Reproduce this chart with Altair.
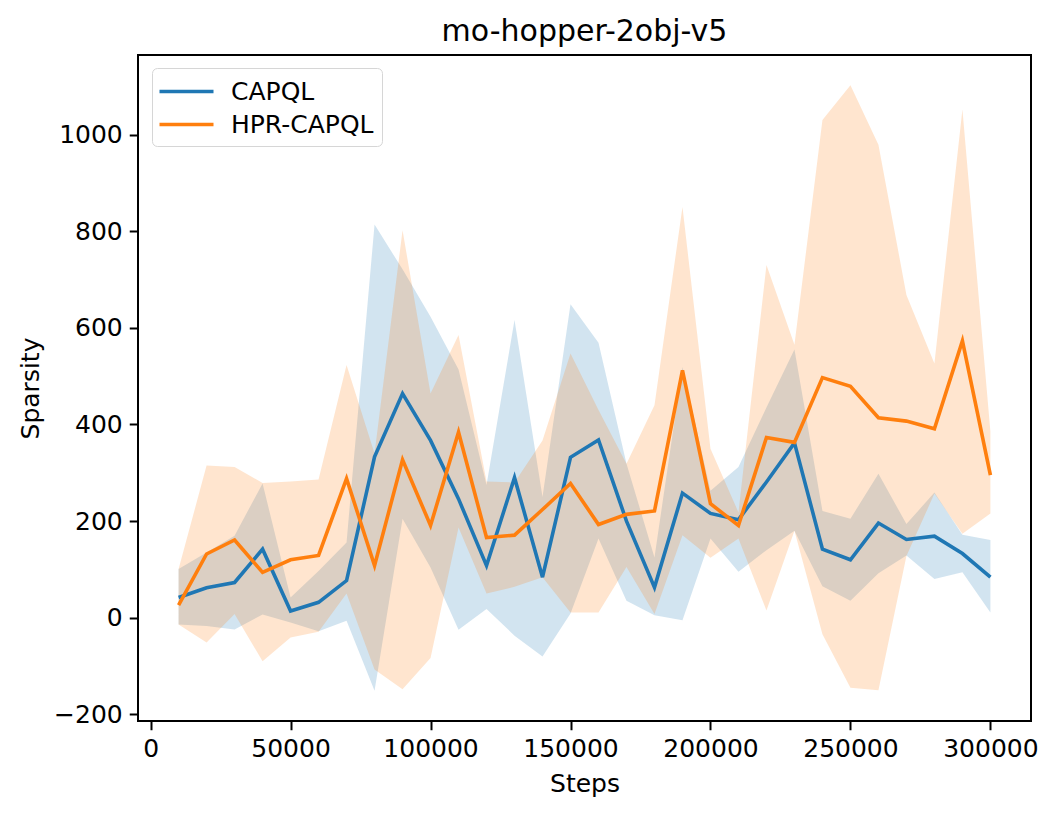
import altair as alt
import pandas as pd

steps = [10000 * k for k in range(1, 31)]

capql_mean = [42, 62, 73, 142, 14, 32, 77, 333, 464, 367,
              246, 108, 290, 84, 332, 368, 200, 63, 258, 216,
              203, 281, 362, 142, 120, 196, 162, 169, 133, 84]
capql_lo = [-14, -17, -24, 7, -10, -28, -6, -151, 205, 104,
            -25, 18, -37, -80, 9, 164, 35, 5, -5, 164,
            95, 140, 180, 65, 35, 92, 129, 80, 94, 11]
capql_hi = [101, 135, 170, 278, 42, 97, 156, 814, 721, 623,
            514, 275, 616, 250, 649, 569, 319, 125, 519, 263,
            312, 435, 555, 221, 205, 298, 194, 259, 172, 161]

hpr_mean = [26, 132, 161, 94, 120, 129, 288, 108, 327, 191,
            384, 166, 171, 224, 278, 193, 214, 221, 512, 236,
            191, 373, 363, 497, 479, 414, 407, 391, 573, 295]
hpr_lo = [-14, -51, 8, -90, -41, -29, 50, -107, -148, -83,
          187, 50, 64, 84, 11, 11, 105, 8, 171, 124,
          164, 15, 180, -34, -145, -150, 128, 257, 174, 216]
hpr_hi = [101, 315, 312, 279, 282, 286, 523, 340, 802, 464,
          585, 282, 280, 367, 547, 430, 319, 440, 850, 350,
          218, 730, 565, 1030, 1102, 979, 668, 526, 1052, 385]

methods = ["CAPQL", "HPR-CAPQL"]
colors = ["#1f77b4", "#ff7f0e"]

rows = []
for name, m, lo, hi in [("CAPQL", capql_mean, capql_lo, capql_hi),
                        ("HPR-CAPQL", hpr_mean, hpr_lo, hpr_hi)]:
    for s, a, b, c in zip(steps, m, lo, hi):
        rows.append({"step": s, "mean": a, "lo": b, "hi": c, "method": name})
df = pd.DataFrame(rows)

FONT = "DejaVu Sans"

x_enc = alt.X("step:Q",
              scale=alt.Scale(domain=[-4500, 314500], nice=False, zero=False),
              axis=alt.Axis(title="Steps", values=[0, 50000, 100000, 150000, 200000, 250000, 300000],
                            format="d", grid=False))
y_scale = alt.Scale(domain=[-213.6, 1164.6], nice=False, zero=False)
y_axis = alt.Axis(title="Sparsity", values=[-200, 0, 200, 400, 600, 800, 1000],
                  format="d", grid=False)

band_layers = []
for name, col in zip(methods, colors):
    band_layers.append(
        alt.Chart(df).transform_filter(alt.datum.method == name)
        .mark_area(opacity=0.2, color=col)
        .encode(x=x_enc, y=alt.Y("lo:Q", scale=y_scale, axis=y_axis), y2="hi:Q")
    )

lines = alt.Chart(df).mark_line(strokeWidth=3.6).encode(
    x=x_enc,
    y=alt.Y("mean:Q", scale=y_scale, axis=y_axis),
    color=alt.Color("method:N", scale=alt.Scale(domain=methods, range=colors),
                    legend=alt.Legend(orient="none", legendX=14, legendY=13, title=None,
                                      symbolType="M-2,0H2", symbolSize=729,
                                      symbolOffset=11,
                                      symbolStrokeWidth=3.6, labelFont=FONT,
                                      labelFontSize=25, labelOffset=29, rowPadding=4,
                                      padding=8, fillColor="white", strokeColor="#d6d6d6",
                                      cornerRadius=5, labelColor="black")),
)

chart = alt.layer(*band_layers, lines).properties(
    width=893,
    height=666,
    padding={"left": 130, "top": 47, "right": 12, "bottom": 80},
    autosize=alt.AutoSizeParams(type="none"),
    title=alt.TitleParams("mo-hopper-2obj-v5", font=FONT, fontSize=30, fontWeight="normal",
                          color="black", offset=8, anchor="middle"),
).configure_view(
    stroke="black", strokeWidth=2
).configure_axis(
    domain=False, tickColor="black", tickWidth=2, tickSize=8.75,
    labelFont=FONT, labelFontSize=25, labelColor="black", labelPadding=7,
    titleFont=FONT, titleFontSize=25, titleFontWeight="normal", titleColor="black",
    titlePadding=10,
)

chart.save("out.html", embed_options={"renderer": "svg", "actions": False})
